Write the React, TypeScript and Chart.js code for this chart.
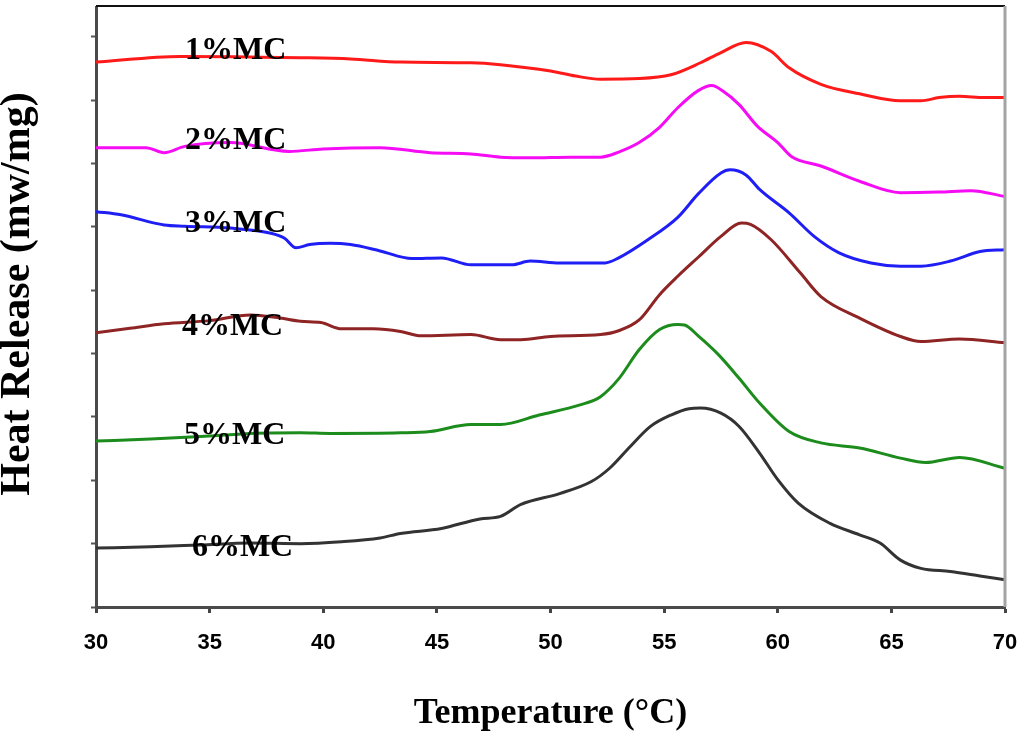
import React, { useEffect, useRef } from "react";
import { Chart, registerables } from "chart.js";

Chart.register(...registerables);

// ---- data (temperature in °C, heat release in arbitrary stacked units) ----
const xTickValues = [30, 35, 40, 45, 50, 55, 60, 65, 70];

const tempMC1 = [30, 33.7, 36.8, 39.0, 41.2, 43.4, 46.5, 47.8, 50.0, 51.1, 52.2, 53.9, 55.3, 56.6, 57.5, 58.6, 59.7, 60.5, 61.9, 63.6, 65.4, 66.3, 67.1, 68.0, 69.1, 70];
const heatMC1 = [8.60, 8.69, 8.68, 8.67, 8.65, 8.60, 8.59, 8.56, 8.46, 8.38, 8.33, 8.34, 8.40, 8.59, 8.75, 8.91, 8.77, 8.51, 8.25, 8.10, 7.99, 7.99, 8.04, 8.06, 8.04, 8.04];

const tempMC2 = [30, 32.2, 33.0, 33.9, 35.9, 38.5, 40.0, 42.5, 44.7, 46.5, 47.8, 49.1, 50.9, 52.2, 53.0, 53.9, 54.8, 55.6, 56.5, 57.1, 57.6, 58.3, 59.1, 60.0, 60.6, 61.9, 63.6, 65.4, 67.1, 68.5, 70];
const heatMC2 = [7.25, 7.25, 7.17, 7.27, 7.33, 7.19, 7.23, 7.25, 7.17, 7.15, 7.10, 7.09, 7.10, 7.10, 7.18, 7.33, 7.57, 7.88, 8.15, 8.23, 8.14, 7.93, 7.59, 7.33, 7.11, 6.96, 6.72, 6.54, 6.55, 6.57, 6.48];

const tempMC3 = [30, 31.1, 33.0, 33.9, 35.9, 37.7, 38.3, 38.8, 39.4, 40.3, 41.2, 42.5, 43.9, 45.2, 46.5, 48.3, 49.1, 50.4, 52.4, 53.0, 54.3, 55.6, 56.5, 57.5, 57.9, 58.6, 59.2, 60.5, 61.6, 62.7, 64.1, 65.4, 66.3, 67.6, 68.9, 70];
const heatMC3 = [6.24, 6.19, 6.03, 6.01, 5.98, 5.90, 5.82, 5.67, 5.72, 5.74, 5.72, 5.62, 5.50, 5.51, 5.40, 5.40, 5.46, 5.43, 5.43, 5.51, 5.80, 6.15, 6.52, 6.85, 6.90, 6.82, 6.59, 6.22, 5.85, 5.59, 5.43, 5.38, 5.38, 5.46, 5.61, 5.64];

const tempMC4 = [30, 31.5, 33.0, 35.0, 36.8, 38.1, 39.0, 39.9, 40.8, 42.2, 43.4, 44.3, 46.5, 47.8, 48.7, 50.0, 52.2, 53.0, 53.9, 54.8, 55.6, 56.5, 57.5, 58.4, 58.8, 59.7, 61.0, 61.9, 63.6, 65.4, 66.3, 68.0, 70];
const heatMC4 = [4.33, 4.40, 4.47, 4.52, 4.61, 4.56, 4.51, 4.49, 4.39, 4.39, 4.35, 4.28, 4.30, 4.22, 4.22, 4.27, 4.30, 4.36, 4.53, 4.93, 5.22, 5.52, 5.85, 6.06, 6.04, 5.80, 5.27, 4.90, 4.56, 4.27, 4.19, 4.23, 4.17];

const tempMC5 = [30, 32.4, 34.6, 36.8, 39.0, 40.3, 43.4, 44.7, 46.5, 47.8, 49.5, 51.3, 52.2, 53.0, 53.9, 54.8, 55.6, 55.9, 56.5, 57.4, 58.3, 59.2, 60.5, 61.9, 63.6, 65.4, 66.5, 68.0, 70];
const heatMC5 = [2.62, 2.65, 2.69, 2.74, 2.75, 2.74, 2.75, 2.77, 2.88, 2.88, 3.03, 3.19, 3.32, 3.60, 4.06, 4.38, 4.46, 4.45, 4.28, 3.98, 3.61, 3.22, 2.77, 2.59, 2.51, 2.35, 2.28, 2.36, 2.19];

const tempMC6 = [30, 32.4, 34.6, 36.8, 39.0, 40.8, 42.5, 43.4, 45.2, 46.9, 47.8, 48.7, 50.4, 51.8, 52.6, 53.5, 54.4, 55.3, 56.1, 56.6, 57.5, 58.3, 59.2, 60.0, 60.9, 62.3, 63.6, 64.5, 65.4, 66.3, 67.6, 68.9, 70];
const heatMC6 = [0.93, 0.95, 0.98, 1.01, 1.00, 1.03, 1.09, 1.16, 1.24, 1.39, 1.43, 1.62, 1.79, 1.98, 2.19, 2.53, 2.85, 3.03, 3.13, 3.14, 3.06, 2.85, 2.43, 2.01, 1.64, 1.32, 1.14, 1.01, 0.74, 0.61, 0.56, 0.49, 0.43];

const seriesNames = ["1%MC", "2%MC", "3%MC", "4%MC", "5%MC", "6%MC"];
const seriesTemps = [tempMC1, tempMC2, tempMC3, tempMC4, tempMC5, tempMC6];
const seriesHeats = [heatMC1, heatMC2, heatMC3, heatMC4, heatMC5, heatMC6];
const seriesColors = ["#ff1a1a", "#f50cf5", "#1f1ff5", "#8e2424", "#1c8c1c", "#333333"];

// label anchor (left edge, vertical middle) in data units
const labelTemps = [33.92, 33.92, 33.92, 33.78, 33.87, 34.22];
const labelHeats = [8.78, 7.36, 6.05, 4.42, 2.70, 0.93];

const yTitle = "Heat Release (mw/mg)";
const xTitle = "Temperature (°C)";

export default function App() {
  const canvasRef = useRef<HTMLCanvasElement | null>(null);

  useEffect(() => {
    const canvas = canvasRef.current;
    if (!canvas) return;

    const overlay = {
      id: "overlay",
      afterDraw(chart: any) {
        const { ctx, chartArea, scales } = chart;
        const xs = scales.x;
        const ys = scales.y;
        ctx.save();
        // top frame line
        ctx.strokeStyle = "#111111";
        ctx.lineWidth = 2;
        ctx.beginPath();
        ctx.moveTo(chartArea.left, chartArea.top - 1);
        ctx.lineTo(chartArea.right, chartArea.top - 1);
        ctx.stroke();
        // right frame line
        ctx.strokeStyle = "#a3a3a3";
        ctx.lineWidth = 3;
        ctx.beginPath();
        ctx.moveTo(chartArea.right, chartArea.top - 1);
        ctx.lineTo(chartArea.right, chartArea.bottom);
        ctx.stroke();
        // series labels
        ctx.fillStyle = "#000000";
        ctx.font = 'bold 32px "Liberation Serif", "Times New Roman", serif';
        ctx.textAlign = "left";
        ctx.textBaseline = "middle";
        seriesNames.forEach((name, i) => {
          ctx.fillText(name, xs.getPixelForValue(labelTemps[i]), ys.getPixelForValue(labelHeats[i]));
        });
        // y title
        ctx.translate(18, (chartArea.top + chartArea.bottom) / 2 - 13);
        ctx.rotate(-Math.PI / 2);
        ctx.font = 'bold 42px "Liberation Serif", "Times New Roman", serif';
        ctx.textAlign = "center";
        ctx.textBaseline = "middle";
        ctx.fillText(yTitle, 0, 0);
        ctx.restore();
      },
    };

    const chart = new Chart(canvas, {
      type: "line",
      data: {
        datasets: seriesNames.map((name, i) => ({
          label: name,
          data: seriesTemps[i].map((t, j) => ({ x: t, y: seriesHeats[i][j] })),
          borderColor: seriesColors[i],
          backgroundColor: seriesColors[i],
          borderWidth: 3,
          pointRadius: 0,
          cubicInterpolationMode: "monotone" as const,
          fill: false,
        })),
      },
      options: {
        responsive: false,
        maintainAspectRatio: false,
        animation: false,
        layout: { padding: { top: 7, right: 19, left: 0, bottom: 0 } },
        plugins: {
          legend: { display: false },
          tooltip: { enabled: false },
        },
        scales: {
          x: {
            type: "linear",
            min: 30,
            max: 70,
            afterFit: (s: any) => {
              s.height = 135;
              s.paddingLeft = 0;
              s.paddingRight = 0;
            },
            afterBuildTicks: (s: any) => {
              s.ticks = xTickValues.map((v) => ({ value: v }));
            },
            ticks: {
              stepSize: 5,
              padding: 17,
              color: "#000000",
              font: { family: '"Liberation Sans", Arial, sans-serif', size: 22, weight: "bold" },
            },
            grid: {
              drawOnChartArea: false,
              drawTicks: true,
              tickLength: 6,
              tickColor: "#444444",
              tickWidth: 3,
            },
            border: { color: "#4a4a4a", width: 3 },
            title: {
              display: true,
              text: xTitle,
              color: "#000000",
              font: { family: '"Liberation Serif", "Times New Roman", serif', size: 36, weight: "bold", lineHeight: 1 },
              padding: { top: 0, bottom: 10 },
            },
          },
          y: {
            type: "linear",
            min: 0,
            max: 9.47,
            afterFit: (s: any) => {
              s.width = 96;
              s.paddingTop = 0;
              s.paddingBottom = 0;
            },
            afterBuildTicks: (s: any) => {
              s.ticks = s.ticks.filter((t: any) => Number.isInteger(t.value));
            },
            ticks: { display: false, stepSize: 1 },
            grid: {
              drawOnChartArea: false,
              drawTicks: true,
              tickLength: 5,
              tickColor: "#555555",
              tickWidth: 2,
            },
            border: { color: "#4a4a4a", width: 3 },
            title: { display: false },
          },
        },
      },
      plugins: [overlay],
    });

    return () => chart.destroy();
  }, []);

  return (
    <div style={{ position: "absolute", left: 0, top: 0, width: 1024, height: 742, background: "#ffffff" }}>
      <canvas ref={canvasRef} width={1024} height={742} style={{ width: 1024, height: 742, display: "block" }} />
    </div>
  );
}
